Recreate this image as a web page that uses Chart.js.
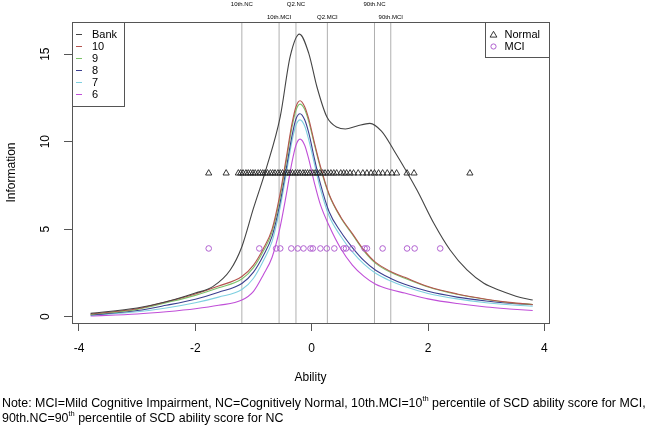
<!DOCTYPE html>
<html><head><meta charset="utf-8">
<script src="https://cdn.jsdelivr.net/npm/chart.js@4"></script>
<style>
html,body{margin:0;padding:0;background:#fff;}
#wrap{position:relative;width:650px;height:429px;overflow:hidden;}
canvas{position:absolute;left:0;top:0;}
#note{position:absolute;left:2px;top:396px;font:12.4px "Liberation Sans",Arial,sans-serif;line-height:15px;color:#000;white-space:nowrap;}
#note sup{font-size:7.5px;vertical-align:top;line-height:7px;position:relative;top:-1px;}
</style></head><body>
<div id="wrap"><canvas id="c" width="650" height="429"></canvas>
<div id="note">Note: MCI=Mild Cognitive Impairment, NC=Cognitively Normal, 10th.MCI=10<sup>th</sup> percentile of SCD ability score for MCI,<br>90th.NC=90<sup>th</sup> percentile of SCD ability score for NC</div></div>
<script>
// ---- data ----
const seriesNames = ['Bank', '10', '9', '8', '7', '6'];
const bankAbility = [-3.8, -3.0, -2.5, -2.0, -1.7, -1.4, -1.2, -1.0, -0.78, -0.54, -0.37, -0.21, -0.05, 0.09, 0.26, 0.44, 0.58, 0.78, 1.0, 1.2, 1.41, 1.81, 2.1, 2.38, 2.67, 2.96, 3.24, 3.59, 3.8];
const bankInfo    = [0.19, 0.5, 0.85, 1.35, 1.72, 2.67, 4.0, 6.2, 8.48, 11.43, 14.86, 16.15, 15.05, 13.14, 11.43, 10.82, 10.73, 10.9, 11.05, 10.6, 9.53, 7.24, 5.34, 3.81, 2.67, 1.91, 1.5, 1.1, 0.95];
const itemAbility = [-3.8, -3.0, -2.5, -2.0, -1.6, -1.2, -1.0, -0.83, -0.68, -0.55, -0.44, -0.34, -0.27, -0.2, -0.12, -0.05, 0.05, 0.15, 0.3, 0.5, 0.7, 0.9, 1.1, 1.35, 1.6, 2.0, 2.5, 3.0, 3.4, 3.8];
const info10 = [0.15, 0.45, 0.85, 1.3, 1.75, 2.3, 2.95, 3.9, 5.0, 6.9, 9.0, 11.0, 12.0, 12.34, 12.0, 11.3, 9.9, 8.6, 7.0, 5.7, 4.75, 3.8, 3.1, 2.6, 2.25, 1.72, 1.3, 1.0, 0.82, 0.7];
const info9  = [0.13, 0.42, 0.8, 1.22, 1.65, 2.15, 2.8, 3.75, 4.85, 6.7, 8.8, 10.8, 11.8, 12.15, 11.85, 11.15, 9.8, 8.5, 6.95, 5.65, 4.7, 3.75, 3.05, 2.55, 2.2, 1.7, 1.28, 0.98, 0.8, 0.7];
const info8  = [0.1, 0.35, 0.65, 1.0, 1.4, 1.9, 2.55, 3.5, 4.6, 6.4, 8.4, 10.3, 11.3, 11.6, 11.25, 10.5, 9.0, 7.6, 6.0, 4.85, 3.95, 3.2, 2.65, 2.2, 1.85, 1.45, 1.12, 0.9, 0.77, 0.68];
const info7  = [0.08, 0.28, 0.5, 0.8, 1.12, 1.55, 2.2, 3.2, 4.3, 6.1, 8.1, 10.0, 10.95, 11.25, 10.9, 10.1, 8.7, 7.3, 5.75, 4.6, 3.7, 3.0, 2.48, 2.05, 1.72, 1.33, 1.02, 0.8, 0.68, 0.6];
const info6  = [0.04, 0.15, 0.28, 0.45, 0.65, 0.95, 1.45, 2.4, 3.4, 5.0, 6.9, 8.8, 9.8, 10.15, 9.8, 9.0, 7.6, 6.4, 5.2, 3.9, 2.95, 2.3, 1.85, 1.55, 1.35, 1.02, 0.75, 0.55, 0.44, 0.35];
const normalAbility = [-1.77, -1.47, -1.26, -1.22, -1.18, -1.13, -1.09, -1.05, -1.01, -0.97, -0.92, -0.88, -0.84, -0.80, -0.76, -0.71, -0.67, -0.63, -0.58, -0.54, -0.50, -0.45, -0.41, -0.37, -0.33, -0.28, -0.24, -0.20, -0.15, -0.11, -0.07, -0.03, 0.02, 0.06, 0.10, 0.14, 0.19, 0.23, 0.28, 0.33, 0.38, 0.43, 0.50, 0.55, 0.60, 0.66, 0.72, 0.80, 0.88, 0.95, 1.02, 1.08, 1.15, 1.22, 1.30, 1.38, 1.46, 1.64, 1.76, 2.72];
const normalInfo = 8.2;
const mciAbility = [-1.77, -0.90, -0.61, -0.54, -0.35, -0.24, -0.14, -0.02, 0.02, 0.15, 0.26, 0.39, 0.55, 0.59, 0.70, 0.91, 0.95, 1.22, 1.64, 1.77, 2.21];
const mciInfo = 3.9;
const cutNames  = ['10th.NC', '10th.MCI', 'Q2.NC', 'Q2.MCI', '90th.NC', '90th.MCI'];
const cutValues = [-1.2, -0.56, -0.27, 0.27, 1.08, 1.36];
const xTicks = [-4, -2, 0, 2, 4];
const yTicks = [0, 5, 10, 15];
const groupNames = ['Normal', 'MCI'];

// ---- styles ----
const X_MIN = -4.12, X_MAX = 4.08, Y_MIN = -0.36, Y_MAX = 16.84;
const lineColors = ['#444444', '#b5544f', '#7cc26a', '#3b3f8f', '#7fd0e0', '#c04fd8'];
const cutColor = '#b0b0b0';
const mciColor = '#b060d0';
Chart.defaults.font.family = '"Liberation Sans", Arial, sans-serif';
Chart.defaults.color = '#000';

const zip = (xs, ys) => xs.map((v, i) => ({x: v, y: ys[i]}));
const itemSeries = [info10, info9, info8, info7, info6];

const datasets = [];
datasets.push({label: seriesNames[0], data: zip(bankAbility, bankInfo), showLine: true, borderColor: lineColors[0], borderWidth: 1.1, pointRadius: 0, cubicInterpolationMode: 'monotone', order: 5});
itemSeries.forEach((s, i) => datasets.push({label: seriesNames[i + 1], data: zip(itemAbility, s), showLine: true, borderColor: lineColors[i + 1], borderWidth: 1.1, pointRadius: 0, cubicInterpolationMode: 'monotone', order: 5}));
datasets.push({label: groupNames[0], data: normalAbility.map(v => ({x: v, y: normalInfo})), showLine: false, pointStyle: 'triangle', pointRadius: 3.6, borderColor: '#222', backgroundColor: 'rgba(0,0,0,0)', borderWidth: 0.9, order: 1});
datasets.push({label: groupNames[1], data: mciAbility.map(v => ({x: v, y: mciInfo})), showLine: false, pointStyle: 'circle', pointRadius: 2.8, borderColor: mciColor, backgroundColor: 'rgba(0,0,0,0)', borderWidth: 1, order: 1});
cutValues.forEach((v, i) => datasets.push({label: cutNames[i], data: [{x: v, y: Y_MIN}, {x: v, y: Y_MAX}], showLine: true, borderColor: cutColor, borderWidth: 1, pointRadius: 0, order: 10}));

const deco = {
  id: 'deco',
  afterDraw(chart) {
    const {ctx, chartArea: a, scales: {x}} = chart;
    ctx.save();
    ctx.strokeStyle = '#555'; ctx.lineWidth = 1;
    ctx.strokeRect(Math.round(a.left) + 0.5, Math.round(a.top) + 0.5, Math.round(a.right - a.left), Math.round(a.bottom - a.top));
    // cut labels
    ctx.font = '6px "Liberation Sans", Arial, sans-serif';
    ctx.fillStyle = '#000'; ctx.textAlign = 'center'; ctx.textBaseline = 'middle';
    cutNames.forEach((n, i) => {
      const px = x.getPixelForValue(cutValues[i]);
      ctx.fillText(n, px, n.endsWith('MCI') ? 17 : 4);
    });
    // left legend
    const L = Math.round(a.left) + 0.5, T = Math.round(a.top) + 0.5;
    ctx.fillStyle = '#fff';
    ctx.fillRect(L, T, 52, 84);
    ctx.strokeStyle = '#555';
    ctx.strokeRect(L, T, 52, 84);
    ctx.font = '11px "Liberation Sans", Arial, sans-serif';
    ctx.textAlign = 'left';
    seriesNames.forEach((n, i) => {
      const yy = T + 12 + i * 12;
      ctx.strokeStyle = lineColors[i]; ctx.lineWidth = 1;
      ctx.beginPath(); ctx.moveTo(L + 3.5, yy); ctx.lineTo(L + 9.5, yy); ctx.stroke();
      ctx.fillStyle = '#000';
      ctx.fillText(n, L + 19.5, yy + 0.5);
    });
    // right legend
    const R = Math.round(a.right) + 0.5;
    const RL = R - 64;
    ctx.fillStyle = '#fff';
    ctx.fillRect(RL, T, 64, 35);
    ctx.strokeStyle = '#555';
    ctx.strokeRect(RL, T, 64, 35);
    const tx = RL + 8, ty = T + 12;
    ctx.strokeStyle = '#222'; ctx.lineWidth = 0.9;
    ctx.beginPath(); ctx.moveTo(tx, ty - 3.2); ctx.lineTo(tx + 3.4, ty + 2.6); ctx.lineTo(tx - 3.4, ty + 2.6); ctx.closePath(); ctx.stroke();
    ctx.strokeStyle = mciColor; ctx.lineWidth = 1;
    ctx.beginPath(); ctx.arc(tx, T + 24, 2.6, 0, Math.PI * 2); ctx.stroke();
    ctx.fillStyle = '#000';
    ctx.fillText(groupNames[0], RL + 19, ty + 0.5);
    ctx.fillText(groupNames[1], RL + 19, T + 24.5);
    ctx.restore();
  }
};

new Chart(document.getElementById('c'), {
  type: 'scatter',
  data: {datasets},
  plugins: [deco],
  options: {
    responsive: false,
    animation: false,
    events: [],
    layout: {padding: {left: 0, top: 22, right: 101, bottom: 0}, autoPadding: false},
    plugins: {legend: {display: false}, tooltip: {enabled: false}},
    scales: {
      x: {
        type: 'linear', min: X_MIN, max: X_MAX,
        afterBuildTicks: s => { s.ticks = xTicks.map(v => ({value: v})); },
        afterFit: s => { s.height = 106; },
        grid: {drawOnChartArea: false, drawTicks: true, tickLength: 8, color: '#555'},
        border: {display: true, color: '#555'},
        ticks: {font: {size: 12}, color: '#000', padding: 10, maxRotation: 0, callback: v => String(v)},
        title: {display: true, text: 'Ability', font: {size: 12}, color: '#000', padding: {top: 0, bottom: 44}}
      },
      y: {
        type: 'linear', min: Y_MIN, max: Y_MAX,
        afterBuildTicks: s => { s.ticks = yTicks.map(v => ({value: v})); },
        afterFit: s => { s.width = 72; },
        grid: {drawOnChartArea: false, drawTicks: true, tickLength: 8, color: '#555'},
        border: {display: true, color: '#555'},
        ticks: {font: {size: 12}, color: '#000', padding: 12, minRotation: 90, maxRotation: 90, crossAlign: 'center', callback: v => String(v)},
        title: {display: true, text: 'Information', font: {size: 12}, color: '#000', padding: {top: 4, bottom: 0}}
      }
    }
  }
});
</script>
</body></html>
